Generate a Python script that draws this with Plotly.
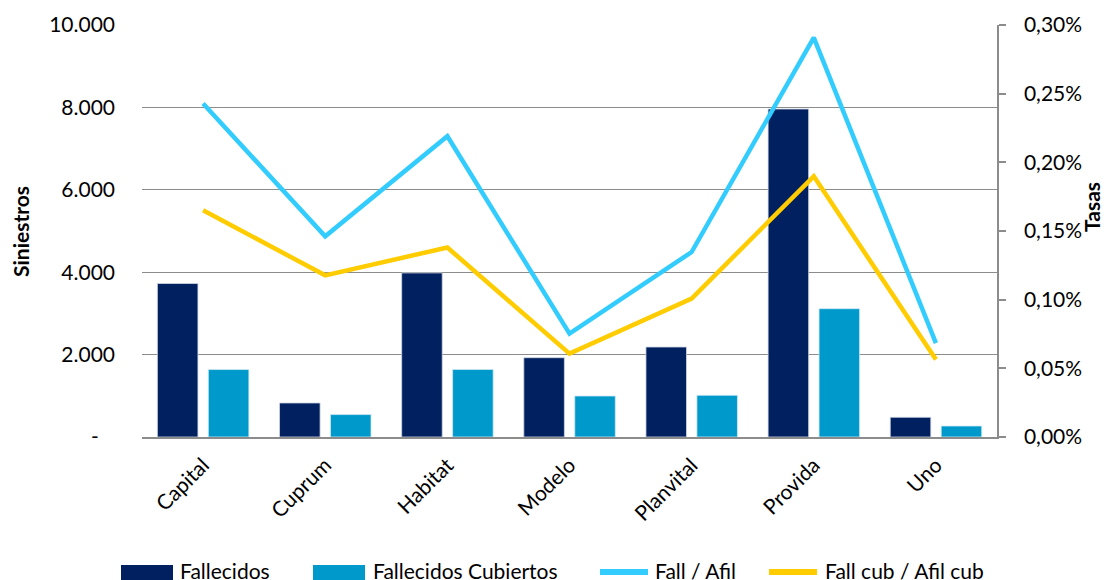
import plotly.graph_objects as go

categories = ["Capital", "Cuprum", "Habitat", "Modelo", "Planvital", "Provida", "Uno"]
fallecidos = [3725, 826, 3982, 1925, 2184, 7961, 478]
fallecidos_cubiertos = [1637, 544, 1640, 995, 1012, 3114, 267]
fall_afil = [0.002428, 0.001461, 0.002190, 0.000753, 0.001347, 0.002908, 0.000684]
fallcub_afilcub = [0.001651, 0.001177, 0.001380, 0.000607, 0.001008, 0.001898, 0.000564]

left_tickvals = [0, 2000, 4000, 6000, 8000, 10000]
left_ticktext = ["-\u00a0\u00a0\u00a0", "2.000", "4.000", "6.000", "8.000", "10.000"]
right_tickvals = [0, 0.0005, 0.001, 0.0015, 0.002, 0.0025, 0.003]
right_ticktext = ["0,00%", "0,05%", "0,10%", "0,15%", "0,20%", "0,25%", "0,30%"]

series_names = ["Fallecidos", "Fallecidos Cubiertos", "Fall / Afil", "Fall cub / Afil cub"]
colors = ["#002060", "#0099CC", "#33CCFF", "#FFCC00"]

FONT = "Lato"
FS = 21
OFF = 8  # page body margin
W_PX, H_PX = 1112 - OFF, 580 - OFF
# plot area in page pixel coords
L, R, T, B = 142, 997, 25, 437
PW, PH = R - L, B - T


def px(x):
    return (x - L) / PW


def py(y):
    return (B - y) / PH


fig = go.Figure()
fig.add_trace(go.Bar(x=categories, y=fallecidos, name=series_names[0],
                     marker=dict(color=colors[0], line=dict(color="#d0d7e5", width=0.8)),
                     width=0.332, offset=-0.374, showlegend=False))
fig.add_trace(go.Bar(x=categories, y=fallecidos_cubiertos, name=series_names[1],
                     marker=dict(color=colors[1], line=dict(color="#d0e8f2", width=0.8)),
                     width=0.332, offset=0.043, showlegend=False))
fig.add_trace(go.Scatter(x=categories, y=fall_afil, name=series_names[2], yaxis="y2",
                         mode="lines", line=dict(color=colors[2], width=4.5), showlegend=False))
fig.add_trace(go.Scatter(x=categories, y=fallcub_afilcub, name=series_names[3], yaxis="y2",
                         mode="lines", line=dict(color=colors[3], width=4.5), showlegend=False))

shapes = []
annotations = []
# manual legend
leg_y = 570
swatches = [
    ("rect", 121, 173, series_names[0], colors[0], 178),
    ("rect", 313, 365, series_names[1], colors[1], 371),
    ("line", 600, 648, series_names[2], colors[2], 653),
    ("line", 769, 817, series_names[3], colors[3], 823),
]
for kind, x0, x1, name, col, tx in swatches:
    if kind == "rect":
        shapes.append(dict(type="rect", xref="paper", yref="paper",
                           x0=px(x0), x1=px(x1), y0=py(580), y1=py(565),
                           fillcolor=col, line=dict(width=0)))
    else:
        shapes.append(dict(type="line", xref="paper", yref="paper",
                           x0=px(x0), x1=px(x1), y0=py(572), y1=py(572),
                           line=dict(color=col, width=6)))
    annotations.append(dict(text=name, xref="paper", yref="paper", x=px(tx), y=py(leg_y),
                            xanchor="left", yanchor="middle", showarrow=False,
                            font=dict(family=FONT, size=FS, color="#000000")))

annotations.append(dict(text="<b>Siniestros</b>", xref="paper", yref="paper",
                        x=px(20), y=py(231), xanchor="center", yanchor="middle",
                        textangle=-90, showarrow=False,
                        font=dict(family=FONT, size=21, color="#000000")))
annotations.append(dict(text="<b>Tasas</b>", xref="paper", yref="paper",
                        x=px(1091), y=py(207), xanchor="center", yanchor="middle",
                        textangle=-90, showarrow=False,
                        font=dict(family=FONT, size=21, color="#000000")))

fig.update_layout(
    width=W_PX, height=H_PX,
    margin=dict(l=L - OFF, r=W_PX - (R - OFF), t=T - OFF, b=H_PX - (B - OFF), pad=0,
                autoexpand=False),
    paper_bgcolor="white", plot_bgcolor="white",
    barmode="overlay",
    font=dict(family=FONT, size=FS, color="#000000"),
    xaxis=dict(type="category", range=[-0.5, 6.5], tickangle=-45,
               showline=True, linecolor="#8c8c8c", linewidth=1.5,
               showgrid=False, ticks="", ticklabelstandoff=6,
               tickfont=dict(family=FONT, size=FS, color="#000000")),
    yaxis=dict(range=[0, 10000], tickvals=left_tickvals, ticktext=left_ticktext,
               showgrid=True, gridcolor="#8c8c8c", gridwidth=1.2,
               zeroline=False, showline=False, ticks="",
               ticklabelstandoff=26,
               tickfont=dict(family=FONT, size=FS, color="#000000")),
    yaxis2=dict(range=[0, 0.003], overlaying="y", side="right",
                tickvals=right_tickvals, ticktext=right_ticktext,
                showgrid=False, zeroline=False,
                showline=True, linecolor="#8c8c8c", linewidth=1.5,
                ticks="outside", ticklen=7, tickcolor="#8c8c8c", tickwidth=1.5,
                ticklabelstandoff=14,
                tickfont=dict(family=FONT, size=FS, color="#000000")),
    shapes=shapes,
    annotations=annotations,
)

fig.write_html("out.html")
